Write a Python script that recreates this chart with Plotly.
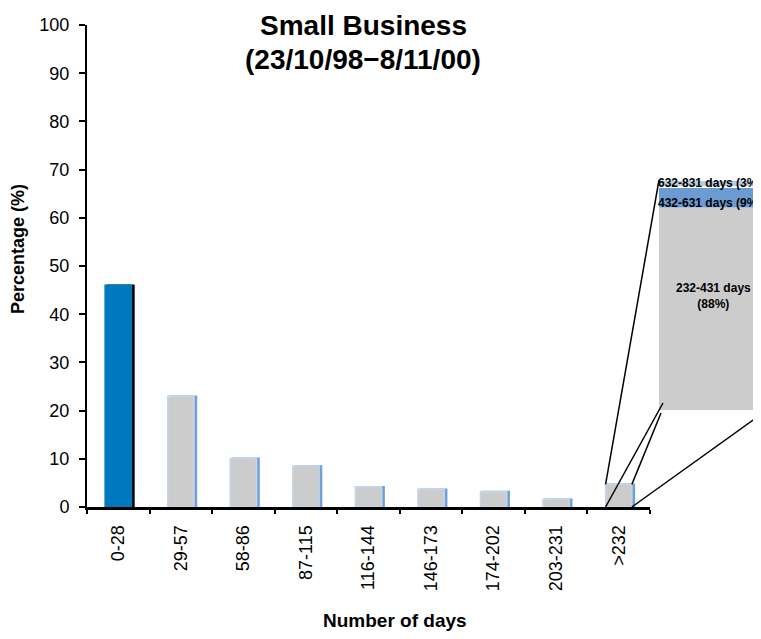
import plotly.graph_objects as go

categories = ['0-28', '29-57', '58-86', '87-115', '116-144', '146-173', '174-202', '203-231', '>232']
percentages = [46, 23, 10.1, 8.5, 4.2, 3.7, 3.2, 1.6, 4.7]

breakdown_labels = ['232-431 days<br>(88%)', '432-631 days (9%)', '632-831 days (3%)']
breakdown_values = [88, 9, 3]

# the page body adds an 8px margin all round, so the figure is drawn smaller
PAD = 8
W, H = 761 - PAD, 639 - 2 * PAD
L, R, T, B = 79, 0, 17, 124
pw, ph = W - L - R, H - T - B


def paper_x(p):
    # p is a pixel x in the window
    return (p - PAD - L) / pw


def paper_y(p):
    return (H - B - (p - PAD)) / ph


d1 = paper_x(650)
d2 = paper_x(659)
y2dom = [paper_y(410), paper_y(180)]

bw = 0.42
n = len(categories)

fig = go.Figure()

# shadow behind the bars
fig.add_trace(go.Bar(
    x=categories, y=percentages, width=bw, offset=-bw / 2 + 0.04,
    marker=dict(color=['black'] + ['#6FA3D8'] * (n - 1),
                line=dict(color=['black'] + ['#6FA3D8'] * (n - 1), width=1.5)),
    hoverinfo='skip', showlegend=False))

fig.add_trace(go.Bar(
    x=categories, y=percentages, width=bw, offset=-bw / 2,
    marker=dict(color=['#0079C1'] + ['#CCCCCC'] * (n - 1),
                line=dict(color=['#0079C1'] + ['#C5D5EA'] * (n - 1), width=1.5)),
    showlegend=False))

# breakdown of the >232 bar
bases = [sum(breakdown_values[:i]) for i in range(len(breakdown_values))]
fig.add_trace(go.Bar(
    x=[0] * len(breakdown_values), y=breakdown_values, base=bases, width=1,
    marker=dict(color=['#CCCCCC', '#6C9BD2', '#B8CCE4'],
                line=dict(color='white', width=[0, 0, 2])),
    xaxis='x2', yaxis='y2', showlegend=False))

font = 'Liberation Sans, Arial, sans-serif'
box_right = -0.5 + (761 - 659) / (767 - 659)

fig.update_layout(
    width=W, height=H,
    margin=dict(l=L, r=R, t=T, b=B),
    paper_bgcolor='white', plot_bgcolor='white',
    barmode='overlay',
    font=dict(family=font, color='black', size=18),
    xaxis=dict(domain=[0, d1], type='category', range=[-0.5, n - 0.5],
               showline=True, linecolor='black', linewidth=3,
               ticks='outside', tickson='boundaries', ticklen=4, tickwidth=1.5,
               tickcolor='black', tickangle=-90, showgrid=False,
               ticklabelstandoff=8, tickfont=dict(size=18)),
    yaxis=dict(domain=[0, 1], range=[0, 100], dtick=10,
               showline=True, linecolor='black', linewidth=2,
               ticks='outside', ticklen=6, tickwidth=1.5, tickcolor='black',
               ticklabelstandoff=6,
               showgrid=False, zeroline=False, tickfont=dict(size=18)),
    xaxis2=dict(domain=[d2, 1], range=[-0.5, box_right], visible=False, anchor='y2'),
    yaxis2=dict(domain=y2dom, range=[0, 100], visible=False, anchor='x2'),
)


def px_main(i):
    return (i + 0.5) / n * d1


def px_box(v):
    return d2 + (v + 0.5) / (box_right + 0.5) * (1 - d2)


def py_box(v):
    return y2dom[0] + v / 100 * (y2dom[1] - y2dom[0])


last = n - 1
top = percentages[last] / 100
bl, br = px_main(last - bw / 2), px_main(last + bw / 2)
line = dict(color='black', width=1.5)
segs = [
    (bl, top, px_box(-0.5), py_box(100)),
    (bl, 0, px_box(-0.5) + 4 / pw, py_box(0) + 7 / ph),
    (br, top, px_box(-0.5) + 2 / pw, py_box(0) - 3 / ph),
    (br, 0, px_box(0.5), py_box(0)),
]
for x0, y0, x1, y1 in segs:
    fig.add_shape(type='line', xref='paper', yref='paper',
                  x0=x0, y0=y0, x1=x1, y1=y1, line=line, layer='above')

# labels in the breakdown box
fig.add_annotation(x=0, y=bases[0] + breakdown_values[0] / 2, xref='x2', yref='y2',
                   xanchor='center', yanchor='middle',
                   text='<b>' + breakdown_labels[0] + '</b>', showarrow=False,
                   yshift=13, font=dict(size=12))
for i, ys in ((1, -6), (2, 0)):
    fig.add_annotation(x=-0.5, y=bases[i] + breakdown_values[i] / 2, xref='x2', yref='y2',
                       xanchor='left', yanchor='middle',
                       text='<b>' + breakdown_labels[i] + '</b>',
                       showarrow=False, xshift=-3, yshift=ys, font=dict(size=12))

# title
for text, yp in (('Small Business', 25), ('(23/10/98\u22128/11/00)', 60)):
    fig.add_annotation(x=paper_x(363), y=paper_y(yp), xref='paper', yref='paper',
                       xanchor='center', yanchor='middle',
                       text='<b>' + text + '</b>', showarrow=False, font=dict(size=28))

# axis titles
fig.add_annotation(x=paper_x(395), xref='paper', y=paper_y(620), yref='paper',
                   xanchor='center', yanchor='middle',
                   text='<b>Number of days</b>', showarrow=False, font=dict(size=19))
fig.add_annotation(x=paper_x(18), xref='paper', y=paper_y(249), yref='paper',
                   xanchor='center', yanchor='middle',
                   text='<b>Percentage (%)</b>', textangle=-90, showarrow=False,
                   font=dict(size=18))

fig.write_html("out.html")
